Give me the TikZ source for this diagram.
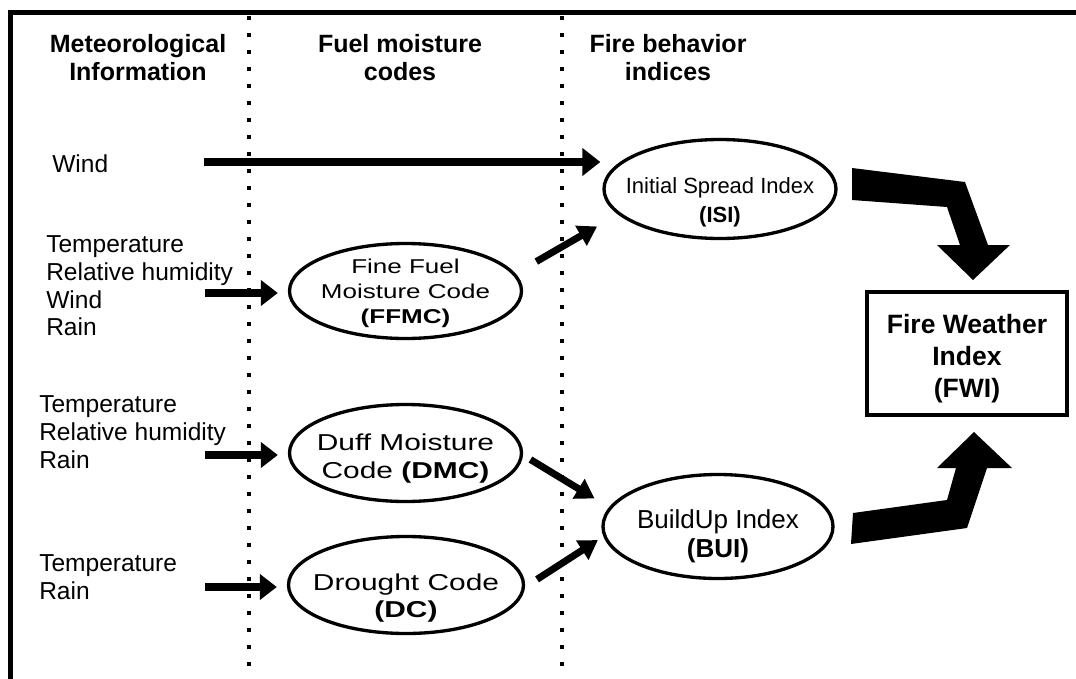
\documentclass[tikz,border=0pt]{standalone}
\usepackage{fontspec}
\setmainfont{Liberation Sans}
\newfontfamily\widesans[FakeStretch=1.3]{Liberation Sans}
\usetikzlibrary{arrows.meta,shapes.geometric}
\newcommand{\lowertext}[1]{\rule{0pt}{#1}}

\begin{document}
\begin{tikzpicture}[x=0.75pt,y=-0.75pt,
  every node/.style={inner sep=0pt},
  colhead/.style={font=\bfseries\fontsize{18.75}{21}\selectfont,align=center},
  metinfo/.style={font=\fontsize{18.4}{20.8}\selectfont,align=left,anchor=west},
  codeoval/.style={draw,ellipse,line width=2.5pt,inner sep=-20pt,align=center},
  sepline/.style={line width=3pt,dash pattern=on 3pt off 9.75pt},
  inarrow/.style={line width=6pt,-{Triangle[length=12.75pt,width=18.75pt]},shorten >=7.5pt},
  linkarrow/.style={line width=5.25pt,-{Triangle[length=14pt,width=16.5pt]}}]
  \useasboundingbox (0,0) rectangle (1076,679);
  % frame and column separators
  \draw[line width=3.75pt] (10,679) -- (10,12) -- (1076,12);
  \foreach \sx in {249,562} {\draw[sepline] (\sx,16) -- (\sx,679);}
  % column headings
  \node[colhead] (methead) at (138,58) {Meteorological\\Information};
  \node[colhead] (fuelhead) at (400,58) {Fuel moisture\\codes};
  \node[colhead] (firehead) at (668,58) {Fire behavior\\indices};
  % weather inputs
  \node[metinfo] (wind) at (52,164) {Wind};
  \node[metinfo] (ffmcvars) at (46,286) {Temperature\\Relative humidity\\Wind\\Rain};
  \node[metinfo] (dmcvars) at (39,432) {Temperature\\Relative humidity\\Rain};
  \node[metinfo] (dcvars) at (39,577) {Temperature\\Rain};
  % codes and indices
  \node[codeoval,minimum width=174pt,minimum height=71.25pt,
    font=\widesans\fontsize{15}{18.75}\selectfont] (ffmc) at (405.5,291)
    {\lowertext{13.7pt}Fine Fuel\\Moisture Code\\\textbf{(FFMC)}};
  \node[codeoval,minimum width=174pt,minimum height=72.75pt,
    font=\widesans\fontsize{17.25}{21}\selectfont] (dmc) at (405.5,453)
    {\lowertext{20.1pt}Duff Moisture\\Code \textbf{(DMC)}};
  \node[codeoval,minimum width=176.25pt,minimum height=72.75pt,
    font=\widesans\fontsize{17.25}{20.25}\selectfont] (dc) at (406,585)
    {\lowertext{32.8pt}Drought Code\\\textbf{(DC)}};
  \node[codeoval,minimum width=174pt,minimum height=74.25pt,
    font=\fontsize{16.5}{21.75}\selectfont] (isi) at (720,189)
    {\lowertext{31.2pt}Initial Spread Index\\\textbf{(ISI)}};
  \node[codeoval,minimum width=172.5pt,minimum height=78pt,
    font=\fontsize{19.5}{21.75}\selectfont] (bui) at (718,526.5)
    {\lowertext{28.1pt}BuildUp Index\\\textbf{(BUI)}};
  \node[draw,line width=3pt,minimum width=150pt,minimum height=92.25pt,align=center,
    font=\bfseries\fontsize{19.9}{24}\selectfont] (fwi) at (967,353.5)
    {\lowertext{21.4pt}Fire Weather\\Index\\(FWI)};
  % arrows
  \coordinate (inwind) at (204,162);
  \draw[inarrow,shorten >=1.5pt,-{Triangle[length=13.5pt,width=20.25pt]}] (inwind) -- (inwind -| isi.west);
  \foreach \code/\y in {ffmc/293,dmc/455,dc/587} {
    \coordinate (in\code) at (205,\y);
    \draw[inarrow] (in\code) -- (in\code -| \code.west);
  }
  \draw[linkarrow,shorten <=18pt,shorten >=18pt] (ffmc.9) -- (isi.194);
  \draw[linkarrow,shorten <=6.5pt,shorten >=12.75pt] (dmc.359) -- (bui.170);
  \draw[linkarrow,shorten <=10.7pt,shorten >=4.9pt] (dc.359) -- (bui.185);
  % broad arrows into the FWI box
  \fill (852,168) -- (965,182) -- (988,245) -- (1010,245) -- (973,280)
    -- (937,245) -- (960,245) -- (947,207) -- (852,200) -- cycle;
  \fill (851,544) -- (967,528) -- (987,468) -- (1012,468) -- (974,432)
    -- (937,468) -- (956,468) -- (947,500) -- (853,513) -- cycle;
\end{tikzpicture}
\end{document}
